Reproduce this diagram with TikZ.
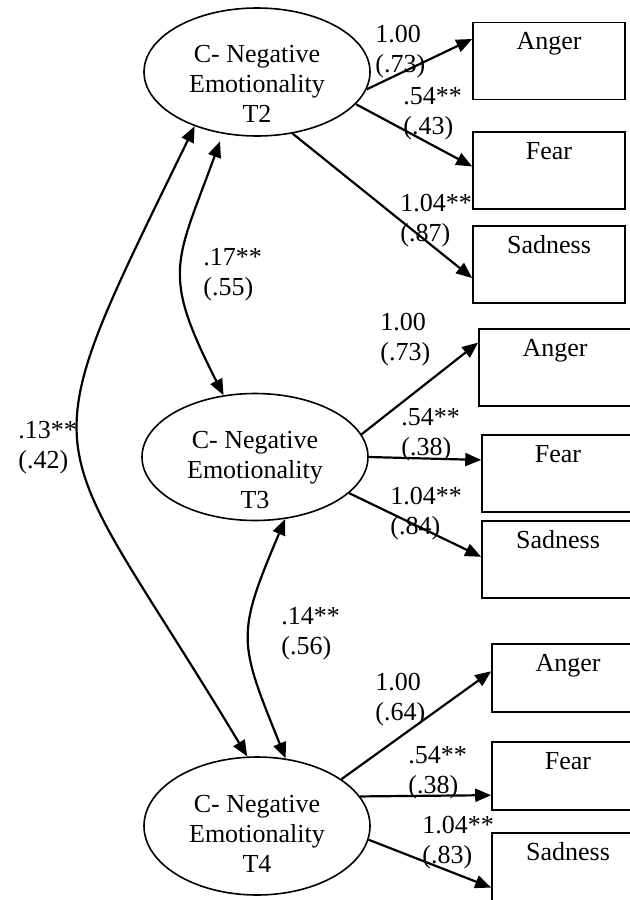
\documentclass[tikz,border=0pt]{standalone}
\usepackage{fontspec}
\setmainfont{Liberation Serif}
\usetikzlibrary{shapes.geometric,arrows.meta}

\begin{document}
\begin{tikzpicture}[x=0.5pt, y=0.5pt, font=\fontsize{13}{15}\selectfont,
    latent/.style={ellipse, draw, line width=0.8pt, minimum width=113pt, minimum height=#1},
    latent/.default=64pt,
    indicator/.style={draw, line width=0.8pt, minimum width=76pt, inner ysep=4.5pt, text height=9pt, text depth=#1},
    indicator/.default=20.5pt,
    est/.style={inner sep=0pt, anchor=west, align=left}]
        \useasboundingbox (0,0) rectangle (629,-900);
        % latent factors
        \node[latent, label={[align=center,yshift=-6pt]center:C- Negative\\Emotionality\\T2}] at (257,-72) (ne2) {};
        \node[latent=63.5pt, label={[align=center,yshift=-6.5pt]center:C- Negative\\Emotionality\\T3}] at (255,-457) (ne3) {};
        \node[latent=69pt, label={[align=center,yshift=-4pt]center:C- Negative\\Emotionality\\T4}] at (257,-826) (ne4) {};
        % indicators
        \node[indicator] at (549,-61) (a2) {Anger};
        \node[indicator] at (549,-170.5) (f2) {Fear};
        \node[indicator] at (549,-264.5) (s2) {Sadness};
        \node[indicator] at (555,-367.5) (a3) {Anger};
        \node[indicator] at (558,-473.5) (f3) {Fear};
        \node[indicator] at (558,-559.5) (s3) {Sadness};
        \node[indicator=16pt] at (568,-678) (a4) {Anger};
        \node[indicator=16pt] at (568,-776) (f4) {Fear};
        \node[indicator=16pt] at (568,-867) (s4) {Sadness};
        % loadings
        \path[->, line width=1.1pt, >={Triangle[length=8pt,width=6.5pt]}]
        (ne2.-9) edge (a2.164.5)
        (ne2.-18) edge (f2.177.4)
        (ne2.-60) edge (s2.190)
        (ne3.12.6) edge (a3.162.8)
        (ne3.-0.5) edge (f3.170)
        (ne3.-21) edge (s3.178)
        (ne4.29) edge (a4.175.5)
        (ne4.16.8) edge (f4.194)
        (ne4.-7) edge (s4.195.5)
        ;
        % covariances
        \path[<->, line width=1.1pt, >={Triangle[length=8pt,width=6.5pt]}]
        (ne2.241) edge [out=250, in=117, looseness=1.35, shorten <=4pt] (ne3.117)
        (ne3.296) edge [out=247, in=112, looseness=1.35] (ne4.67)
        (ne2.221) edge [out=244, in=121, looseness=1.6] (ne4.98)
        ;
        % estimates
        \node[est] at (375,-52) (l2a) {1.00\\(.73)};
        \node[est] at (403,-114) (l2f) {.54**\\(.43)};
        \node[est] at (400,-220.5) (l2s) {1.04**\\(.87)};
        \node[est] at (380,-340) (l3a) {1.00\\(.73)};
        \node[est] at (401,-435) (l3f) {.54**\\(.38)};
        \node[est] at (390,-514) (l3s) {1.04**\\(.84)};
        \node[est] at (375,-700) (l4a) {1.00\\(.64)};
        \node[est] at (408,-772.5) (l4f) {.54**\\(.38)};
        \node[est] at (422,-843) (l4s) {1.04**\\(.83)};
        \node[est] at (203,-275) (c23) {.17**\\(.55)};
        \node[est] at (281,-634) (c34) {.14**\\(.56)};
        \node[est] at (18,-448) (c24) {.13**\\(.42)};
    \end{tikzpicture}
\end{document}
